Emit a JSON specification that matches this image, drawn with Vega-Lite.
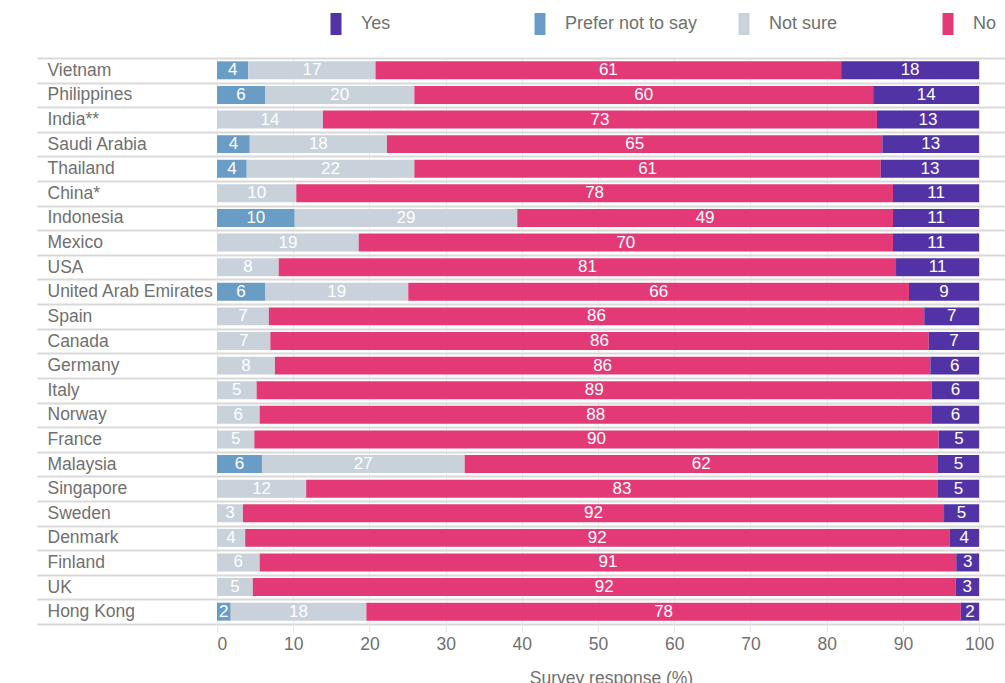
{
  "$schema": "https://vega.github.io/schema/vega-lite/v6.json",
  "autosize": {"type": "none"},
  "width": 788,
  "height": 566,
  "padding": {"left": 217, "top": 58, "right": 0, "bottom": 59},
  "config": {"font": "Liberation Sans", "view": {"stroke": null}},
  "data": {
    "values": [
      {"country": "Vietnam", "Prefer not to say": 4.1, "Not sure": 16.7, "No": 61.1, "Yes": 18.1},
      {"country": "Philippines", "Prefer not to say": 6.3, "Not sure": 19.6, "No": 60.2, "Yes": 13.9},
      {"country": "India**", "Prefer not to say": 0, "Not sure": 13.9, "No": 72.7, "Yes": 13.4},
      {"country": "Saudi Arabia", "Prefer not to say": 4.3, "Not sure": 18.0, "No": 65.0, "Yes": 12.7},
      {"country": "Thailand", "Prefer not to say": 3.9, "Not sure": 22.0, "No": 61.2, "Yes": 12.9},
      {"country": "China*", "Prefer not to say": 0, "Not sure": 10.4, "No": 78.3, "Yes": 11.3},
      {"country": "Indonesia", "Prefer not to say": 10.2, "Not sure": 29.2, "No": 49.3, "Yes": 11.3},
      {"country": "Mexico", "Prefer not to say": 0, "Not sure": 18.6, "No": 70.1, "Yes": 11.3},
      {"country": "USA", "Prefer not to say": 0, "Not sure": 8.1, "No": 81.0, "Yes": 10.9},
      {"country": "United Arab Emirates", "Prefer not to say": 6.3, "Not sure": 18.8, "No": 65.7, "Yes": 9.2},
      {"country": "Spain", "Prefer not to say": 0, "Not sure": 6.8, "No": 86.0, "Yes": 7.2},
      {"country": "Canada", "Prefer not to say": 0, "Not sure": 7.0, "No": 86.4, "Yes": 6.6},
      {"country": "Germany", "Prefer not to say": 0, "Not sure": 7.6, "No": 86.0, "Yes": 6.4},
      {"country": "Italy", "Prefer not to say": 0, "Not sure": 5.2, "No": 88.6, "Yes": 6.2},
      {"country": "Norway", "Prefer not to say": 0, "Not sure": 5.6, "No": 88.2, "Yes": 6.2},
      {"country": "France", "Prefer not to say": 0, "Not sure": 4.9, "No": 89.8, "Yes": 5.3},
      {"country": "Malaysia", "Prefer not to say": 5.9, "Not sure": 26.6, "No": 62.1, "Yes": 5.4},
      {"country": "Singapore", "Prefer not to say": 0, "Not sure": 11.7, "No": 82.9, "Yes": 5.4},
      {"country": "Sweden", "Prefer not to say": 0, "Not sure": 3.4, "No": 92.0, "Yes": 4.6},
      {"country": "Denmark", "Prefer not to say": 0, "Not sure": 3.7, "No": 92.4, "Yes": 3.9},
      {"country": "Finland", "Prefer not to say": 0, "Not sure": 5.6, "No": 91.4, "Yes": 3.0},
      {"country": "UK", "Prefer not to say": 0, "Not sure": 4.7, "No": 92.2, "Yes": 3.1},
      {"country": "Hong Kong", "Prefer not to say": 1.8, "Not sure": 17.8, "No": 78.0, "Yes": 2.4}
    ]
  },
  "transform": [
    {"fold": ["Prefer not to say", "Not sure", "No", "Yes"], "as": ["response", "value"]},
    {"filter": "isValid(datum.value) && datum.value > 0"},
    {"calculate": "indexof(['Prefer not to say','Not sure','No','Yes'], datum.response)", "as": "ord"},
    {"stack": "value", "groupby": ["country"], "sort": [{"field": "ord", "order": "ascending"}], "as": ["v0", "v1"]},
    {"calculate": "(datum.v0 + datum.v1) / 2", "as": "mid"}
  ],
  "encoding": {
    "y": {
      "field": "country",
      "type": "nominal",
      "sort": null,
      "scale": {"paddingInner": 0, "paddingOuter": 0},
      "axis": {
        "title": null,
        "domain": false,
        "grid": true,
        "gridColor": "#d9d9d9",
        "gridWidth": 2,
        "tickBand": "extent",
        "ticks": true,
        "tickSize": 180,
        "tickColor": "#d9d9d9",
        "tickWidth": 2,
        "labelAlign": "left",
        "labelPadding": -10,
        "labelFontSize": 17.5,
        "labelColor": "#707070",
        "labelLimit": 220
      }
    }
  },
  "layer": [
    {
      "mark": {"type": "bar", "height": {"band": 0.73}},
      "encoding": {
        "x": {
          "field": "v0",
          "type": "quantitative",
          "scale": {"domain": [0, 103.4], "nice": false},
          "axis": {
            "values": [0, 10, 20, 30, 40, 50, 60, 70, 80, 90, 100],
            "title": "Survey response (%)",
            "grid": true,
            "gridColor": "#ececec",
            "domain": false,
            "ticks": true,
            "tickSize": 8,
            "tickColor": "#e6e6e6",
            "labelFontSize": 17.5,
            "labelColor": "#707070",
            "labelPadding": 3,
            "titleFontSize": 17.5,
            "titleColor": "#707070",
            "titleFontWeight": "normal",
            "titlePadding": 17
          }
        },
        "x2": {"field": "v1"},
        "color": {
          "field": "response",
          "type": "nominal",
          "scale": {
            "domain": ["Yes", "Prefer not to say", "Not sure", "No"],
            "range": ["#5233a6", "#6a9dc6", "#c9d1db", "#e33a77"]
          },
          "legend": {
            "orient": "none",
            "legendX": 110,
            "legendY": -43,
            "direction": "horizontal",
            "columns": 4,
            "gridAlign": "all",
            "columnPadding": 37,
            "symbolType": "M-1,-2H1V2H-1Z",
            "symbolSize": 121,
            "symbolStrokeWidth": 0,
            "symbolOpacity": 1,
            "labelFontSize": 18,
            "labelColor": "#707070",
            "labelOffset": 16,
            "title": null,
            "padding": 0
          }
        }
      }
    },
    {
      "mark": {"type": "text", "color": "white", "fontSize": 17, "align": "center", "baseline": "middle"},
      "encoding": {
        "x": {"field": "mid", "type": "quantitative"},
        "text": {"field": "value", "type": "quantitative", "format": ".0f"}
      }
    }
  ]
}
